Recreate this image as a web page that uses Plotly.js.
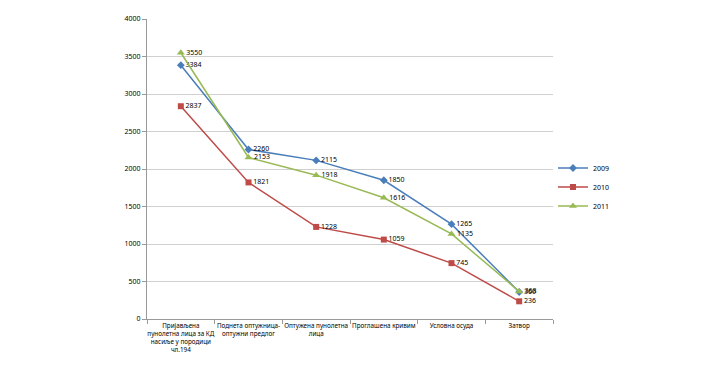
<!DOCTYPE html>
<html>
<head>
<meta charset="utf-8">
<script src="https://cdn.plot.ly/plotly-3.0.1.min.js"></script>
<style>html,body{margin:0;padding:0;background:#fff;}#chart{width:704px;height:380px;}</style>
</head>
<body>
<div id="chart"></div>
<script>
const categories = [
  "Пријављена<br>пунолетна лица за КД<br>насиље у породици<br>чл.194",
  "Поднета оптужница-<br>оптужни предлог",
  "Оптужена пунолетна<br>лица",
  "Проглашена кривим",
  "Условна осуда",
  "Затвор"
];
const values2009 = [3384, 2260, 2115, 1850, 1265, 360];
const values2010 = [2837, 1821, 1228, 1059, 745, 236];
const values2011 = [3550, 2153, 1918, 1616, 1135, 368];
const seriesNames = ["2009", "2010", "2011"];
const yTicks = [0, 500, 1000, 1500, 2000, 2500, 3000, 3500, 4000];

const colors = ["#4A7EBB", "#BE4B48", "#98B954"];
const symbols = ["diamond", "square", "triangle-up"];
const sizes = [6, 6, 7];
const all = [values2009, values2010, values2011];

const traces = all.map((vals, i) => ({
  type: "scatter",
  mode: "lines+markers+text",
  name: seriesNames[i],
  x: categories,
  y: vals,
  text: vals.map(String),
  textposition: "middle right",
  textfont: {family: "Noto Sans, sans-serif", size: 7, color: "#000"},
  line: {color: colors[i], width: 1.5},
  marker: {color: colors[i], symbol: symbols[i], size: sizes[i]},
  cliponaxis: false
}));

const layout = {
  width: 704, height: 380,
  margin: {l: 147, r: 151, t: 19, b: 61},
  paper_bgcolor: "#fff", plot_bgcolor: "#fff",
  font: {family: "Noto Sans, sans-serif", size: 7, color: "#000"},
  showlegend: true,
  legend: {x: 1.0, y: 0.44, xanchor: "left", yanchor: "middle",
    font: {size: 7}, tracegroupgap: 0, itemwidth: 30, bgcolor: "rgba(0,0,0,0)"},
  xaxis: {
    type: "category",
    range: [-0.5, 5.5], autorange: false,
    showline: true, linecolor: "#999", linewidth: 1,
    ticks: "outside", tickson: "boundaries", ticklen: 4, tickcolor: "#999",
    showgrid: false, tickangle: 0,
    tickfont: {size: 6.3}
  },
  yaxis: {
    range: [0, 4000], tickvals: yTicks,
    showline: true, linecolor: "#999", linewidth: 1,
    ticks: "outside", ticklen: 4, tickcolor: "#999",
    showgrid: true, gridcolor: "#d0d0d0", gridwidth: 1,
    zeroline: false, tickfont: {size: 7}
  }
};

Plotly.newPlot("chart", traces, layout, {displayModeBar: false, staticPlot: true});
</script>
</body>
</html>
